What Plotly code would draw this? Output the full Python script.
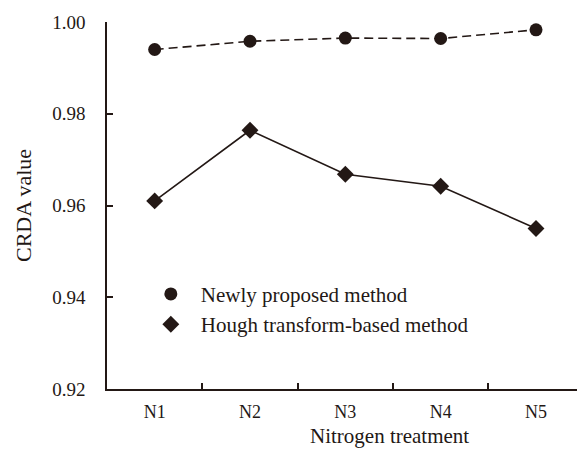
import plotly.graph_objects as go

# Nitrogen treatment levels and CRDA values for each method
treatments = ["N1", "N2", "N3", "N4", "N5"]
proposed_crda = [0.9940, 0.9958, 0.9965, 0.9964, 0.9983]
hough_crda = [0.9610, 0.9764, 0.9668, 0.9642, 0.9550]

ink = "#231815"
serif = "Liberation Serif, Times New Roman, serif"

fig = go.Figure()

# Data lines (legend shows markers only, drawn by separate entries below)
fig.add_trace(go.Scatter(
    x=treatments, y=proposed_crda, mode="lines+markers",
    line=dict(color=ink, width=1.6, dash="9px,5px"),
    marker=dict(symbol="circle", size=13, color=ink),
    showlegend=False,
))
fig.add_trace(go.Scatter(
    x=treatments, y=hough_crda, mode="lines+markers",
    line=dict(color=ink, width=1.6),
    marker=dict(symbol="diamond", size=13, color=ink),
    showlegend=False,
))

# Legend entries: marker symbols only
fig.add_trace(go.Scatter(
    x=[None], y=[None], mode="markers", name="Newly proposed method",
    marker=dict(symbol="circle", size=13, color=ink),
))
fig.add_trace(go.Scatter(
    x=[None], y=[None], mode="markers", name="Hough transform-based method",
    marker=dict(symbol="diamond", size=13, color=ink),
))

fig.update_layout(
    width=577, height=452,
    margin=dict(l=107, r=0, t=22, b=63),
    paper_bgcolor="white", plot_bgcolor="white",
    font=dict(family=serif, color=ink, size=19),
    legend=dict(
        x=0.072, y=0.314, xanchor="left", yanchor="top",
        bgcolor="rgba(0,0,0,0)", font=dict(size=21, color=ink),
        tracegroupgap=0, itemwidth=50,
    ),
)

fig.update_xaxes(
    type="category", range=[-0.5, 4.43],
    showline=True, linecolor=ink, linewidth=1.5,
    ticks="inside", ticklen=6, tickcolor=ink, tickwidth=1.5,
    tickson="boundaries", showgrid=False, zeroline=False,
    tickfont=dict(size=18, color=ink), ticklabelstandoff=6,
)
fig.update_yaxes(
    range=[0.92, 1.0], dtick=0.02, tickformat=".2f",
    showline=True, linecolor=ink, linewidth=1.5,
    ticks="inside", ticklen=6, tickcolor=ink, tickwidth=1.5,
    showgrid=False, zeroline=False,
    tickfont=dict(size=19, color=ink), ticklabelstandoff=16,
    title=dict(text="CRDA value", font=dict(size=22, color=ink), standoff=15),
)

fig.add_annotation(
    text="Nitrogen treatment", xref="paper", yref="paper",
    x=0.6, y=-0.094, xanchor="center", yanchor="top", showarrow=False,
    borderpad=0, font=dict(size=21, color=ink, family=serif),
)

fig.write_html("out.html")
